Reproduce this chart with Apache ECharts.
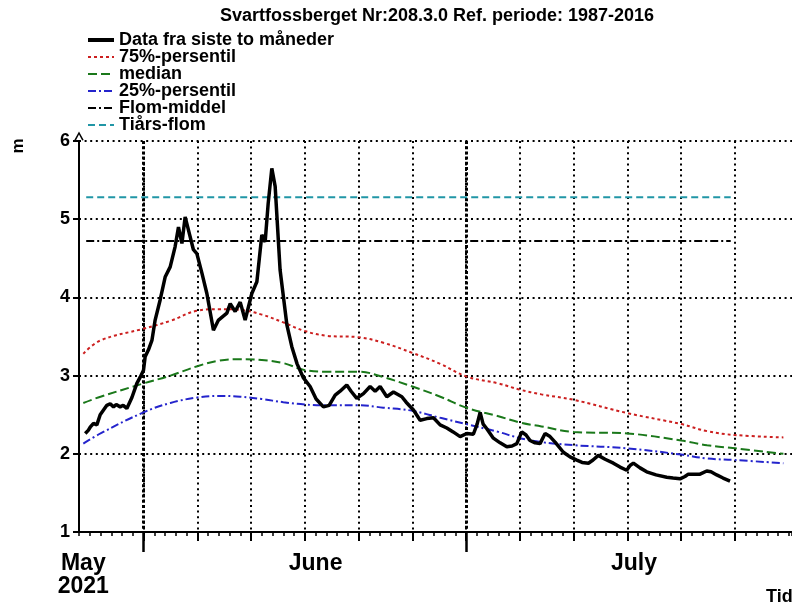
<!DOCTYPE html>
<html>
<head>
<meta charset="utf-8">
<script src="https://cdn.jsdelivr.net/npm/echarts@6/dist/echarts.min.js"></script>
<style>html,body{margin:0;padding:0;background:#fff}#c{width:792px;height:607px}</style>
</head>
<body>
<div id="c"></div>
<script>
// x values: days after 2021-05-26 00:00
const titleText = 'Svartfossberget Nr:208.3.0 Ref. periode: 1987-2016';
const seriesNames = ['Data fra siste to måneder', '75%-persentil', 'median', '25%-persentil', 'Flom-middel', 'Tiårs-flom'];

const dataDays = [0.58,0.86,1.04,1.35,1.66,1.97,2.28,2.59,2.90,3.21,3.46,3.83,4.11,4.45,4.92,5.38,5.69,6.00,6.15,6.46,6.78,7.08,7.55,8.01,8.48,8.94,9.25,9.57,9.87,10.18,10.64,10.96,11.43,11.89,12.50,12.97,13.75,14.06,14.52,14.99,15.45,15.76,16.07,16.54,17.00,17.31,17.59,17.93,18.24,18.70,19.33,19.79,20.28,20.87,21.49,22.05,22.73,23.26,23.82,24.28,24.90,25.30,25.83,26.45,27.07,27.54,28.00,28.62,29.24,30.02,30.42,31.10,31.72,32.34,32.96,33.58,34.20,34.79,35.44,36.06,36.67,37.02,37.30,37.58,37.92,38.53,39.16,39.78,40.27,40.71,41.17,41.57,41.94,42.41,42.87,43.34,43.80,44.27,45.04,45.66,46.29,46.78,47.37,47.80,48.29,48.92,49.69,50.31,50.93,51.24,51.55,52.17,52.79,53.66,54.65,55.24,55.89,56.35,56.66,57.19,57.75,58.37,58.77,59.30,59.89,60.54];
const dataLevels = [2.26,2.30,2.34,2.39,2.37,2.50,2.56,2.62,2.64,2.60,2.63,2.60,2.62,2.58,2.72,2.90,2.98,3.07,3.24,3.33,3.45,3.71,3.97,4.26,4.39,4.65,4.90,4.69,5.03,4.86,4.61,4.56,4.31,4.05,3.58,3.71,3.80,3.92,3.82,3.94,3.71,3.88,4.05,4.20,4.80,4.71,5.20,5.65,5.42,4.35,3.65,3.37,3.15,2.97,2.86,2.70,2.60,2.62,2.75,2.80,2.88,2.80,2.71,2.77,2.86,2.80,2.86,2.73,2.79,2.73,2.66,2.56,2.43,2.45,2.46,2.37,2.33,2.28,2.22,2.26,2.25,2.38,2.53,2.38,2.32,2.20,2.14,2.09,2.10,2.13,2.28,2.24,2.17,2.14,2.13,2.26,2.22,2.15,2.02,1.96,1.92,1.89,1.88,1.92,1.98,1.93,1.88,1.83,1.79,1.85,1.88,1.82,1.77,1.73,1.70,1.69,1.68,1.71,1.74,1.74,1.74,1.78,1.77,1.73,1.69,1.65];

const refDays = [0.4,2,6,8.5,11,13,15,17,19,21,23,26,28.3,31,33.6,36,39,41,43,46,51,56,58.4,61,65.5];
const p75    = [3.28,3.45,3.60,3.70,3.83,3.85,3.84,3.78,3.68,3.57,3.51,3.49,3.42,3.29,3.15,2.99,2.90,2.82,2.76,2.69,2.52,2.38,2.29,2.24,2.21];
const median = [2.65,2.73,2.90,3.00,3.12,3.19,3.21,3.20,3.16,3.07,3.05,3.05,2.98,2.86,2.73,2.59,2.48,2.40,2.35,2.28,2.26,2.17,2.11,2.07,2.00];
const p25    = [2.13,2.26,2.53,2.65,2.72,2.74,2.73,2.70,2.66,2.63,2.62,2.62,2.59,2.55,2.46,2.38,2.28,2.20,2.15,2.11,2.07,1.99,1.94,1.92,1.88];

const floodDays = [0.67, 60.6];
const floodMean = 4.72;
const tenYearFlood = 5.28;

const gridDays = [6,11,16,21,26,31,36,41,46,51,56,61];
const monthDays = [6,36];
const monthLabelDays = [0.4,22,51.6];
const monthLabels = ['May\n2021','June','July'];
const xMin = 0, xMax = 66.3;
const yMin = 1, yMax = 6, yStep = 1;

const FF = "'Liberation Sans', Arial, Helvetica, sans-serif";
const pairs = (xs, ys) => xs.map((x, i) => [x, ys[i]]);
const dotted = { color: '#000', width: 2, type: [2, 3.6] };

const chart = echarts.init(document.getElementById('c'), null, { renderer: 'canvas' });
const gridBox = { left: 79, right: 0, top: 141, bottom: 75, containLabel: false };

chart.setOption({
  animation: false,
  backgroundColor: '#fff',
  title: {
    text: titleText, left: 432, top: 2, textAlign: 'center',
    textStyle: { fontFamily: FF, fontSize: 18, fontWeight: 'bold', color: '#000' }
  },
  legend: {
    orient: 'vertical', left: 81, top: 26, itemWidth: 26, itemHeight: 12, itemGap: -1,
    data: seriesNames.map((n, i) => i === 0 ? { name: n, lineStyle: { width: 4 } } : { name: n }),
    itemStyle: { opacity: 0 },
    textStyle: { fontFamily: FF, fontSize: 18, fontWeight: 'bold', color: '#000', lineHeight: 14 }
  },
  grid: [Object.assign({}, gridBox), Object.assign({}, gridBox), Object.assign({}, gridBox)],
  xAxis: [
    {
      gridIndex: 0, type: 'value', min: xMin, max: xMax, position: 'bottom',
      axisLine: { show: true, lineStyle: { color: '#000', width: 2 } },
      axisTick: { show: true, customValues: gridDays, length: 9, lineStyle: { color: '#000', width: 2 } },
      splitLine: { show: true, lineStyle: dotted },
      axisLabel: {
        show: true, customValues: monthLabelDays, margin: 20,
        formatter: v => monthLabels[monthLabelDays.indexOf(v)],
        fontFamily: FF, fontSize: 23, fontWeight: 'bold', color: '#000', lineHeight: 23
      }
    },
    {
      gridIndex: 1, type: 'value', min: xMin, max: xMax, interval: 1, position: 'bottom',
      axisLine: { show: false },
      axisTick: { show: true, length: 4, lineStyle: { color: '#000', width: 1.5 } },
      splitLine: { show: false }, axisLabel: { show: false }
    },
    {
      gridIndex: 2, type: 'value', min: xMin, max: xMax, position: 'bottom',
      axisLine: { show: false },
      axisTick: { show: true, customValues: monthDays, length: 20, lineStyle: { color: '#000', width: 2.5 } },
      splitLine: { show: true, lineStyle: { color: '#000', width: 3, type: [3, 2.2] } },
      axisLabel: { show: false }
    }
  ],
  yAxis: [
    {
      gridIndex: 0, type: 'value', min: yMin, max: yMax, interval: yStep,
      axisLine: { show: true, lineStyle: { color: '#000', width: 2 },
        symbol: ['none', 'path://M0,9 L5,0 L10,9 L8.4,9.6 L5,3.2 L1.6,9.6 Z'], symbolSize: [10, 9], symbolOffset: [0, 5] },
      axisTick: { show: true, length: 6, lineStyle: { color: '#000', width: 2 } },
      splitLine: { show: true, lineStyle: dotted },
      axisLabel: { margin: 9, fontFamily: FF, fontSize: 18, fontWeight: 'bold', color: '#000' }
    },
    { gridIndex: 1, type: 'value', min: yMin, max: yMax, show: false },
    { gridIndex: 2, type: 'value', min: yMin, max: yMax, show: false }
  ],
  graphic: [
    { type: 'text', x: 18, y: 146, rotation: Math.PI / 2,
      style: { text: 'm', fontFamily: FF, fontSize: 17, fontWeight: 'bold', fill: '#000', align: 'center', verticalAlign: 'middle' } },
    { type: 'text', x: 766, y: 597,
      style: { text: 'Tid', fontFamily: FF, fontSize: 18, fontWeight: 'bold', fill: '#000', align: 'left', verticalAlign: 'middle' } }
  ],
  series: [
    { name: seriesNames[0], type: 'line', data: pairs(dataDays, dataLevels), symbol: 'none', z: 10,
      lineStyle: { color: '#000', width: 3.5 }, itemStyle: { color: '#000' } },
    { name: seriesNames[1], type: 'line', data: pairs(refDays, p75), symbol: 'none', smooth: 0.4,
      lineStyle: { color: '#cc1f1f', width: 2, type: [3, 3] }, itemStyle: { color: '#cc1f1f' } },
    { name: seriesNames[2], type: 'line', data: pairs(refDays, median), symbol: 'none', smooth: 0.4,
      lineStyle: { color: '#1a781a', width: 2, type: [9, 4] }, itemStyle: { color: '#1a781a' } },
    { name: seriesNames[3], type: 'line', data: pairs(refDays, p25), symbol: 'none', smooth: 0.4,
      lineStyle: { color: '#2424cc', width: 2, type: [8, 3, 2, 3] }, itemStyle: { color: '#2424cc' } },
    { name: seriesNames[4], type: 'line', data: floodDays.map(d => [d, floodMean]), symbol: 'none',
      lineStyle: { color: '#000', width: 2, type: [8, 3, 2, 3] }, itemStyle: { color: '#000' } },
    { name: seriesNames[5], type: 'line', data: floodDays.map(d => [d, tenYearFlood]), symbol: 'none',
      lineStyle: { color: '#2196a6', width: 2, type: [7, 4] }, itemStyle: { color: '#2196a6' } }
  ]
});
</script>
</body>
</html>
